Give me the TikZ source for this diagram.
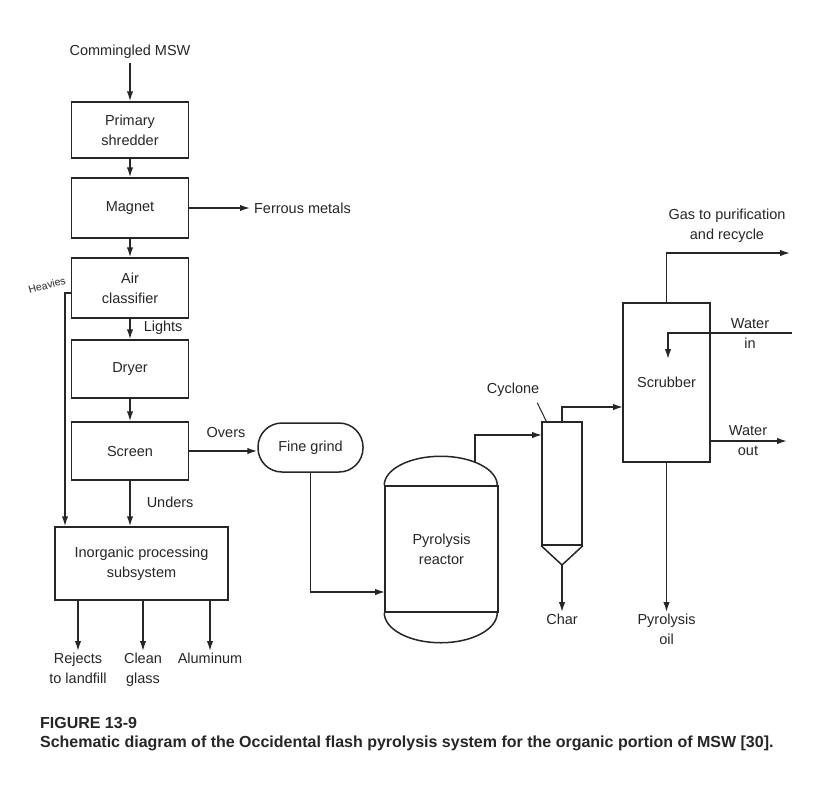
\documentclass[tikz,border=0pt]{standalone}
\usepackage{fontspec}
\setmainfont{Liberation Sans}
\usetikzlibrary{arrows.meta,positioning,calc}

\begin{document}
\begin{tikzpicture}[x=1pt,y=-1pt, line width=1.5pt, draw=black!85,
		every node/.style={font=\fontsize{14.5}{20}\selectfont, text=black!85, align=center},
		unit/.style={draw, minimum width=117pt, minimum height=58pt, inner sep=2pt},
		flow/.style={-{Latex[length=10pt,width=6.5pt]}, line width=1.5pt},
		outlbl/.style={anchor=north, inner sep=1pt}]
	\useasboundingbox (0,0) rectangle (840,796);

	% left column
	\node (msw) at (130,52) {Commingled MSW};
	\node[unit, minimum height=56pt] (shredder) at (130,130) {Primary\\shredder};
	\node[unit, minimum height=60pt] (magnet) at (130,208) {Magnet};
	\node[unit, minimum height=60pt] (air) at (130,288) {Air\\classifier};
	\node[unit] (dryer) at (130,369) {Dryer};
	\node[unit] (screen) at (130,451) {Screen};
	\node[unit, minimum width=173pt, minimum height=73pt] (inorg) at (141.5,563.5) {Inorganic processing\\subsystem};

	\node[anchor=west] (ferrous) at (250,208) {Ferrous metals};
	\node[anchor=west, inner sep=1pt] (lights) at (142,328) {Lights};
	\node[anchor=west, inner sep=1pt] (unders) at (145,502) {Unders};
	\node (overs) at (226,432) {Overs};
	\node[font=\fontsize{10.5}{12}\selectfont, rotate=15] (heavies) at (47,285) {Heavies};

	\node[outlbl] (rejects) at (78,651) {Rejects\\to landfill};
	\node[outlbl] (glass) at (143,651) {Clean\\glass};
	\node[outlbl] (alu) at (210,651) {Aluminum};

	\draw[flow] (msw) -- (shredder);
	\draw[flow] (shredder) -- (magnet);
	\draw[flow] (magnet) -- (air);
	\draw[flow] (air) -- (dryer);
	\draw[flow] (dryer) -- (screen);
	\draw[flow] (magnet.east) -- (ferrous.west);
	\draw[flow] (screen.south) -- (screen.south |- inorg.north);
	\coordinate (hv) at (65,293);
	\draw[flow] (air.west |- hv) -- (hv) -- (hv |- inorg.north);
	\draw[flow] (rejects |- inorg.south) -- (rejects.north);
	\draw[flow] (glass |- inorg.south) -- (glass.north);
	\draw[flow] (alu |- inorg.south) -- (alu.north);

	% grinding and reactor
	\node[draw, rounded corners=24pt, minimum width=105pt, minimum height=49pt] (fine) at (310.5,447.5) {Fine grind};
	\node[draw, minimum width=113pt, minimum height=126pt] (reactor) at (441.5,549) {Pyrolysis\\reactor};
	\draw (reactor.north west) arc[start angle=180, end angle=0, x radius=56.5pt, y radius=29pt];
	\draw (reactor.south west) arc[start angle=180, end angle=360, x radius=56.5pt, y radius=30pt];
	\coordinate (rin) at (385,592);
	\coordinate (rout) at (475,463);
	\draw[flow] (screen.east) -- (screen.east -| fine.west);
	\draw[flow] (fine.south) |- (rin);

	% cyclone
	\node[draw, minimum width=40pt, minimum height=123pt] (cyclone) at (562,483.5) {};
	\coordinate (apex) at (562,565);
	\draw (cyclone.south west) -- (apex) -- (cyclone.south east);
	\node (cyclab) at (513,390) {Cyclone};
	\draw[line width=1pt] ([xshift=-6pt,yshift=-2pt]cyclab.south east) -- ([xshift=5pt]cyclone.north west);
	\node[outlbl] (char) at (562,612) {Char};
	\coordinate (cin) at (542,435);
	\draw[flow] (rout) |- (cin);
	\draw[flow] (apex) -- (char.north);

	% scrubber
	\node[draw, minimum width=87pt, minimum height=159pt] (scrubber) at (666.5,382.5) {Scrubber};
	\coordinate (sin) at (623,407);
	\draw[flow] (cyclone.north) |- (sin);
	\node (gas) at (727,226) {Gas to purification\\and recycle};
	\coordinate (gasend) at (790,253);
	\draw[flow] (scrubber.north) |- (gasend);
	\node (win) at (750,334) {Water\\in};
	\coordinate (wstart) at (792,333);
	\coordinate (wdown) at (668,359);
	\draw[flow] (wstart) -| (wdown);
	\node (wout) at (748,441) {Water\\out};
	\coordinate (wend) at (787,441);
	\draw[flow] (scrubber.east |- wend) -- (wend);
	\node[outlbl] (oil) at (666.5,612) {Pyrolysis\\oil};
	\draw[flow] (scrubber.south) -- (oil.north);

	% caption
	\node[anchor=west, font=\fontsize{16}{18}\selectfont\bfseries] (fig) at (36,723) {FIGURE 13-9};
	\node[anchor=west, font=\fontsize{16}{18}\selectfont\bfseries] (capt) at (36,743) {Schematic diagram of the Occidental flash pyrolysis system for the organic portion of MSW [30].};
\end{tikzpicture}
\end{document}
